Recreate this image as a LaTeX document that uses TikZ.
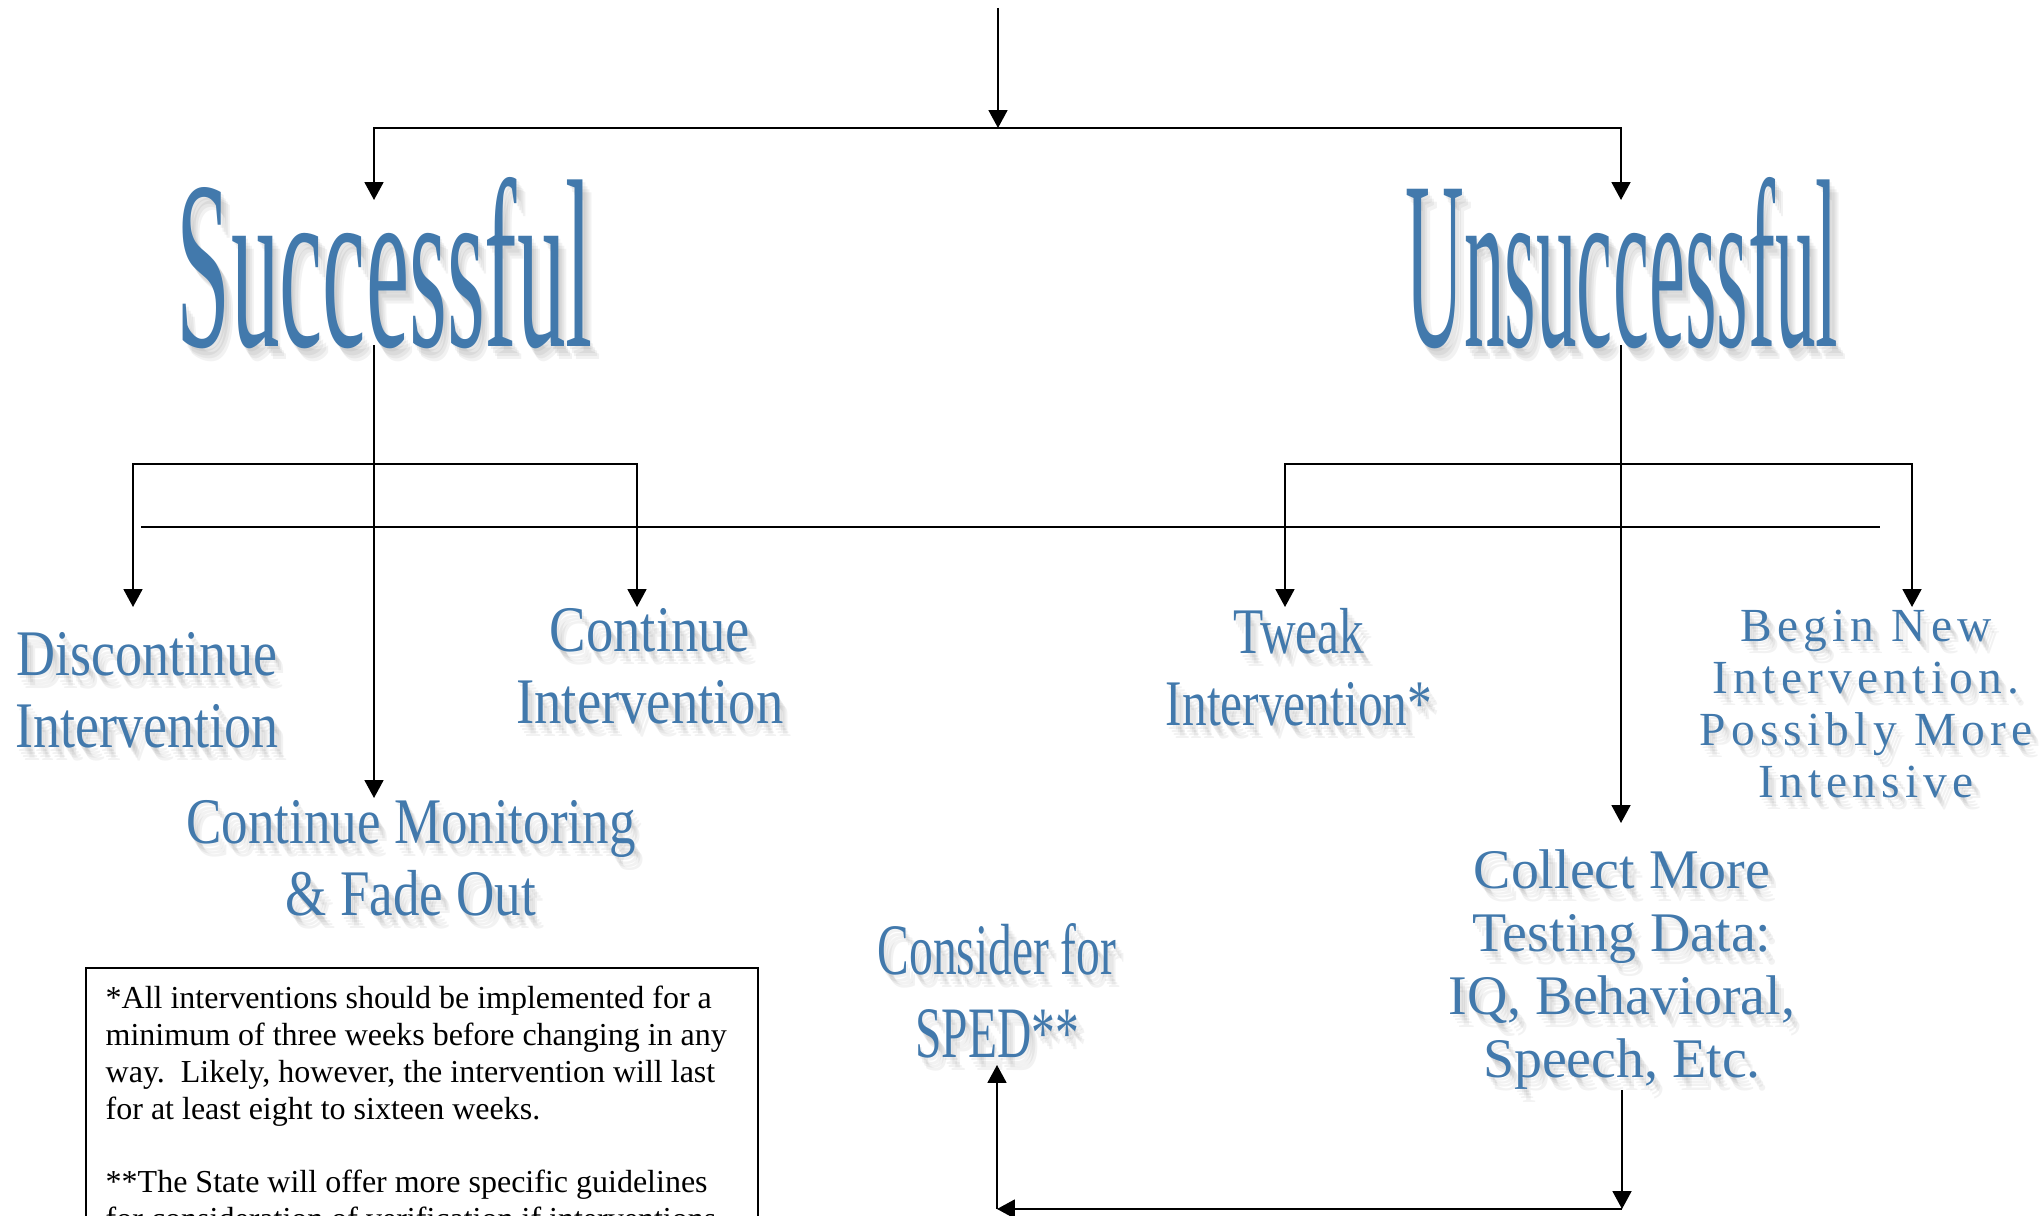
\documentclass[tikz,border=0pt]{standalone}
\usepackage{fontspec}
\setmainfont{Liberation Serif}
\newfontfamily\spacedfont[LetterSpace=11]{Liberation Serif}
\usetikzlibrary{arrows.meta}
\definecolor{artblue}{RGB}{66,121,172}
\newcommand\artnode[4]{%
  \foreach \d in {1,2,3,4}
    \node[xshift={0.6pt*\d}, yshift={-0.9pt*\d}, #2, text=black, text opacity=0.05] at #3 {#4};
  \node[#2] (#1) at #3 {#4};}
\tikzset{
  link/.style={line width=0.5pt},
  art/.style={text=artblue, inner sep=0pt, anchor=north, align=center},
  big/.style={art, font=\fontsize{68.3}{80}\selectfont},
  mid/.style={art, font=\fontsize{18.5}{20.5}\selectfont},
  sped/.style={art, font=\fontsize{20.6}{23.6}\selectfont},
  wide/.style={art, font=\spacedfont\fontsize{13.5}{14.8}\selectfont},
  plain/.style={art, font=\fontsize{15.9}{17.9}\selectfont},
}
\begin{document}
\begin{tikzpicture}[x=0.01cm, y=-0.01cm, >={Triangle[length=5.1pt,width=5.4pt]}]
\useasboundingbox (0,0) rectangle (2042,1216);
\clip (0,0) rectangle (2042,1216);
\artnode{succ}{big, xscale=0.405}{(385,177)}{Successful}
\artnode{unsucc}{big, xscale=0.338}{(1622,177)}{Unsuccessful}
\artnode{discont}{mid, xscale=0.83}{(147,632)}{Discontinue\\Intervention}
\artnode{contint}{mid, xscale=0.84}{(650,608)}{Continue\\Intervention}
\artnode{monitor}{mid, xscale=0.815}{(411,800)}{Continue Monitoring\\\& Fade Out}
\artnode{tweak}{mid, xscale=0.76}{(1299,608)}{Tweak\\Intervention*}
\artnode{beginnew}{wide}{(1866,609)}{Begin New\\Intervention.\\Possibly More\\Intensive}
\artnode{collect}{plain}{(1622,849)}{Collect More\\Testing Data:\\IQ, Behavioral,\\Speech, Etc.}
\artnode{consider}{sped, xscale=0.655}{(997,923)}{Consider for\\SPED**}
\coordinate (start) at (998,8);
\coordinate (fork) at (998,128);
\coordinate (succin) at (374,200);
\coordinate (unsuccin) at (1621,200);
\coordinate (succout) at (374,345);
\coordinate (unsuccout) at (1621,345);
\coordinate (sfork) at (374,464);
\coordinate (ufork) at (1621,464);
\coordinate (discin) at (133,607);
\coordinate (contin) at (637,607);
\coordinate (monin) at (374,798);
\coordinate (tweakin) at (1285,607);
\coordinate (newin) at (1912,607);
\coordinate (collin) at (1621,823);
\coordinate (ruleL) at (141,527);
\coordinate (ruleR) at (1880,527);
\coordinate (cornerR) at (1622,1209);
\coordinate (cornerL) at (997,1209);
\coordinate (spedin) at (997,1065);
\draw[link, ->] (start) -- (fork);
\draw[link, ->] (fork) -| (succin);
\draw[link, ->] (fork) -| (unsuccin);
\draw[link, ->] (succout) -- (monin);
\draw[link, ->] (sfork) -| (discin);
\draw[link, ->] (sfork) -| (contin);
\draw[link, ->] (unsuccout) -- (collin);
\draw[link, ->] (ufork) -| (tweakin);
\draw[link, ->] (ufork) -| (newin);
\draw[line width=0.8pt] (ruleL) -- (ruleR);
\draw[link, ->] (collect.south) -- (cornerR);
\draw[link, ->] (cornerR) -- (cornerL);
\draw[link, ->] (cornerL) -- (spedin);
\draw[line width=0.6pt] (86,968) rectangle (758,1260);
\node[anchor=north west, inner sep=0pt, align=left, font=\fontsize{9.1}{10.5}\selectfont] (note) at (105,985)
  {*All interventions should be implemented for a\\
   minimum of three weeks before changing in any\\
   way.\ \ Likely, however, the intervention will last\\
   for at least eight to sixteen weeks.\\[10.5pt]
   **The State will offer more specific guidelines\\
   for consideration of verification if interventions};
\end{tikzpicture}
\end{document}
